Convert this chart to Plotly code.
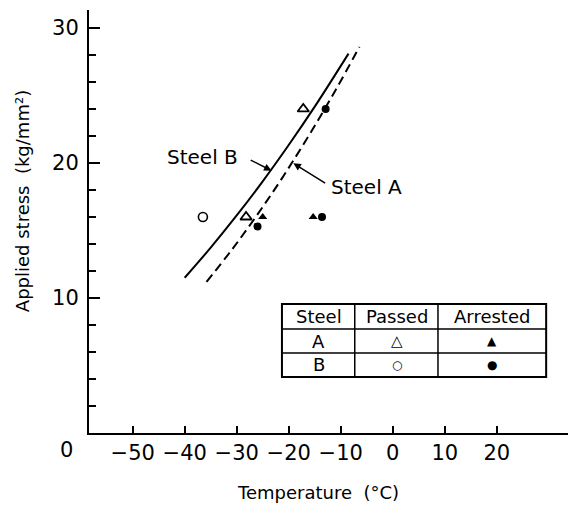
import plotly.graph_objects as go

# ---- data ----
steel_b_temp = [-40.0, -35.0, -30.0, -25.0, -20.0, -15.0, -8.5]
steel_b_stress = [11.5, 13.73, 16.11, 18.64, 21.33, 24.17, 28.1]

steel_a_temp = [-35.8, -31.0, -26.0, -21.0, -16.0, -11.0, -6.4]
steel_a_stress = [11.2, 13.54, 16.19, 19.04, 22.12, 25.39, 28.6]

passed_a_temp = [-17.2, -28.2]
passed_a_stress = [24.0, 16.0]
arrested_a_temp = [-25.0, -15.3]
arrested_a_stress = [16.0, 16.0]
passed_b_temp = [-36.5]
passed_b_stress = [16.0]
arrested_b_temp = [-12.9, -26.0, -13.6]
arrested_b_stress = [24.0, 15.3, 16.0]

x_tick_vals = [-50, -40, -30, -20, -10, 0, 10, 20]
x_tick_text = ["\u221250", "\u221240", "\u221230", "\u221220", "\u221210", "0", "10", "20"]
y_tick_vals = [10, 20, 30]
y_minor_vals = [2, 4, 6, 8, 12, 14, 16, 18, 22, 24, 26, 28]

table_header = ["Steel", "Passed", "Arrested"]
table_rows = [["A", "\u25B3", "\u25B2"], ["B", "\u25CB", "\u25CF"]]

FONT = "DejaVu Sans"
BLACK = "black"

fig = go.Figure()
fig.add_trace(go.Scatter(x=steel_b_temp, y=steel_b_stress, mode="lines",
                         line=dict(color=BLACK, width=2, shape="spline", smoothing=1.0), showlegend=False))
fig.add_trace(go.Scatter(x=steel_a_temp, y=steel_a_stress, mode="lines",
                         line=dict(color=BLACK, width=2, shape="spline", smoothing=1.0, dash="9px,5px"),
                         showlegend=False))
fig.add_trace(go.Scatter(x=passed_a_temp, y=passed_a_stress, mode="markers",
                         marker=dict(symbol="triangle-up-open", size=10, color=BLACK, line=dict(width=1.8)),
                         showlegend=False))
fig.add_trace(go.Scatter(x=arrested_a_temp, y=arrested_a_stress, mode="markers",
                         marker=dict(symbol="triangle-up", size=8, color=BLACK), showlegend=False))
fig.add_trace(go.Scatter(x=passed_b_temp, y=passed_b_stress, mode="markers",
                         marker=dict(symbol="circle-open", size=9, color=BLACK, line=dict(width=1.6)),
                         showlegend=False))
fig.add_trace(go.Scatter(x=arrested_b_temp, y=arrested_b_stress, mode="markers",
                         marker=dict(symbol="circle", size=8, color=BLACK), showlegend=False))

# ---- table (legend) ----
tx0, tx1 = -21.3, 29.5
ty0, ty1 = 4.15, 9.56
col_lines = [-7.3, 8.7]
row_lines = [7.70, 5.93]
col_centers = [-14.27, 0.73, 19.1]
row_centers = [8.63, 6.81, 5.04]

shapes = [dict(type="rect", xref="x", yref="y", x0=tx0, x1=tx1, y0=ty0, y1=ty1,
               line=dict(color=BLACK, width=2))]
for cx in col_lines:
    shapes.append(dict(type="line", xref="x", yref="y", x0=cx, x1=cx, y0=ty0, y1=ty1,
                       line=dict(color=BLACK, width=1.5)))
for ry in row_lines:
    shapes.append(dict(type="line", xref="x", yref="y", x0=tx0, x1=tx1, y0=ry, y1=ry,
                       line=dict(color=BLACK, width=1.5)))

annotations = []
for i, h in enumerate(table_header):
    annotations.append(dict(x=col_centers[i], y=row_centers[0], xref="x", yref="y", text=h,
                            showarrow=False, font=dict(family=FONT, size=18, color=BLACK)))
glyph_sizes = {"\u25B3": 15, "\u25B2": 12, "\u25CB": 12, "\u25CF": 12}
for r, row in enumerate(table_rows):
    for c, val in enumerate(row):
        size = 18 if c == 0 else glyph_sizes[val]
        annotations.append(dict(x=col_centers[c], y=row_centers[r + 1], xref="x", yref="y", text=val,
                                showarrow=False, font=dict(family=FONT, size=size, color=BLACK)))

# curve labels and arrows
annotations.append(dict(x=-36.6, y=20.44, xref="x", yref="y", text="Steel B", showarrow=False,
                        font=dict(family=FONT, size=20, color=BLACK)))
annotations.append(dict(x=-23.3, y=19.43, xref="x", yref="y", ax=-27.6, ay=20.27, axref="x", ayref="y",
                        text="", showarrow=True, arrowhead=2, arrowsize=1, arrowwidth=1.5, arrowcolor=BLACK))
annotations.append(dict(x=-12.2, y=18.24, xref="x", yref="y", text="Steel A", showarrow=False,
                        xanchor="left", font=dict(family=FONT, size=20, color=BLACK)))
annotations.append(dict(x=-19.1, y=19.98, xref="x", yref="y", ax=-12.7, ay=18.44, axref="x", ayref="y",
                        text="", showarrow=True, arrowhead=2, arrowsize=1, arrowwidth=1.5, arrowcolor=BLACK))

# axis titles and stray origin label
annotations.append(dict(x=0.478, y=-0.1395, xref="paper", yref="paper", xanchor="center", yanchor="middle",
                        text="Temperature\u00a0\u00a0(\u00b0C)",
                        showarrow=False, font=dict(family=FONT, size=18, color=BLACK)))
annotations.append(dict(x=-0.1399, y=0.548, xref="paper", yref="paper", xanchor="center", yanchor="middle",
                        text="Applied stress\u00a0\u00a0(kg/mm\u00b2)",
                        textangle=-90, showarrow=False, font=dict(family=FONT, size=18, color=BLACK)))
annotations.append(dict(x=-0.046, y=-0.040, xref="paper", yref="paper", xanchor="center", yanchor="middle",
                        text="0", showarrow=False, font=dict(family=FONT, size=21, color=BLACK)))

fig.update_layout(
    width=568, height=506, autosize=False,
    margin=dict(l=89, r=0, t=10, b=73),
    plot_bgcolor="white", paper_bgcolor="white",
    shapes=shapes, annotations=annotations,
    font=dict(family=FONT, color=BLACK),
)
fig.update_xaxes(range=[-58.4, 33.7], tickvals=x_tick_vals, ticktext=x_tick_text,
                 ticks="inside", ticklen=7, tickwidth=1.5, tickcolor=BLACK,
                 showline=True, linecolor=BLACK, linewidth=2, showgrid=False, zeroline=False,
                 tickfont=dict(family=FONT, size=21, color=BLACK), ticklabelstandoff=0)
fig.update_yaxes(range=[0, 31.33], tickvals=y_tick_vals,
                 ticks="inside", ticklen=11, tickwidth=1.5, tickcolor=BLACK,
                 minor=dict(tickvals=y_minor_vals, ticks="inside", ticklen=7, tickwidth=1.5, tickcolor=BLACK),
                 showline=True, linecolor=BLACK, linewidth=2, showgrid=False, zeroline=False,
                 tickfont=dict(family=FONT, size=21, color=BLACK), ticklabelstandoff=4)

fig.write_html("out.html")
